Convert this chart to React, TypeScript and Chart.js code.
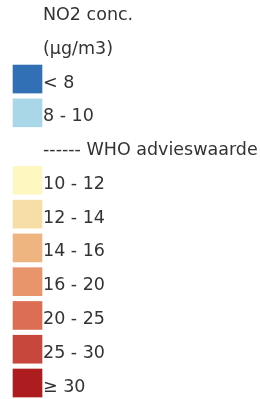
import React, { useEffect, useRef } from "react";
import { Chart, registerables } from "chart.js";

Chart.register(...registerables);

const labels: string[] = [
  "NO2 conc.",
  "(µg/m3)",
  "< 8",
  "8 - 10",
  "------ WHO advieswaarde",
  "10 - 12",
  "12 - 14",
  "14 - 16",
  "16 - 20",
  "20 - 25",
  "25 - 30",
  "≥ 30",
];

const swatchValues: (number | null)[] = [null, null, 1, 1, null, 1, 1, 1, 1, 1, 1, 1];

const swatchColors: string[] = [
  "rgba(0,0,0,0)",
  "rgba(0,0,0,0)",
  "#3170b5",
  "#a9d7e8",
  "rgba(0,0,0,0)",
  "#fef7bf",
  "#f6dea6",
  "#efb581",
  "#e9956c",
  "#dc6f53",
  "#c8473c",
  "#ad1d1f",
];

export default function App() {
  const ref = useRef<HTMLCanvasElement | null>(null);

  useEffect(() => {
    if (!ref.current) return;
    const chart = new Chart(ref.current, {
      type: "bar",
      data: {
        labels,
        datasets: [
          {
            data: swatchValues,
            backgroundColor: swatchColors,
            borderWidth: 0,
            barThickness: 28,
            clip: false as any,
          },
        ],
      },
      options: {
        indexAxis: "y",
        animation: false,
        responsive: false,
        maintainAspectRatio: false,
        events: [],
        layout: { padding: { top: 11, bottom: 16, left: 13, right: 0 } },
        plugins: { legend: { display: false }, tooltip: { enabled: false } },
        scales: {
          x: { display: false, min: 0, max: 1 },
          y: {
            type: "category",
            position: "right",
            offset: false,
            grid: { display: false, drawTicks: false },
            border: { display: false },
            ticks: {
              autoSkip: false,
              padding: 1,
              labelOffset: 4,
              color: "#333333",
              font: { family: "DejaVu Sans", size: 17.5 },
            },
            afterFit: (scale: any) => {
              scale.width = 218;
            },
          },
        },
      },
    });
    return () => chart.destroy();
  }, []);

  return (
    <div style={{ position: "fixed", left: 0, top: 0, width: 260, height: 399, background: "#ffffff" }}>
      <canvas ref={ref} width={260} height={399} style={{ display: "block", width: 260, height: 399 }} />
    </div>
  );
}
